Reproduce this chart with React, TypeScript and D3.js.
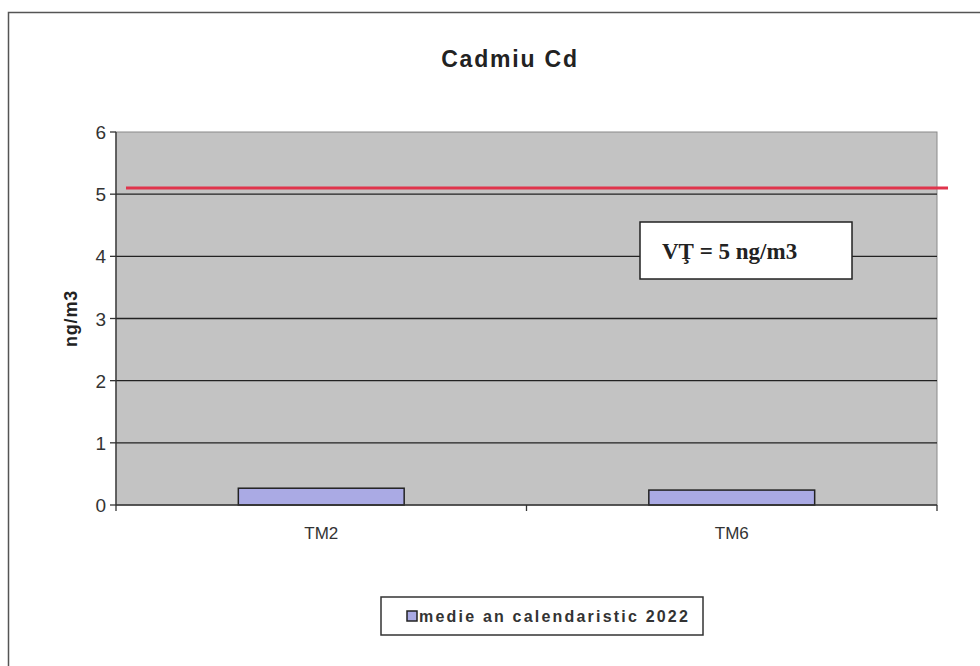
import React from "react";
import * as d3 from "d3";

const categories = ["TM2", "TM6"];
const values = [0.27, 0.24];
const yTicks = [0, 1, 2, 3, 4, 5, 6];
const limitValue = 5.1;
const title = "Cadmiu Cd";
const yTitle = "ng/m3";
const seriesName = "medie an calendaristic 2022";
const limitLabel = "VŢ = 5 ng/m3";

const W = 980;
const H = 666;
const plot = { left: 116, right: 937, top: 132, bottom: 505 };

export default function App() {
  const x = d3.scaleBand<string>().domain(categories).range([plot.left, plot.right]).padding(0);
  const y = d3.scaleLinear().domain([0, 6]).range([plot.bottom, plot.top]);
  const barW = x.bandwidth() * 0.404;
  const font = "Arial, 'Liberation Sans', sans-serif";

  return (
    <svg width={W} height={H} style={{ position: "absolute", left: 0, top: 0, background: "#fff" }}>
      <rect x={0} y={0} width={W} height={H} fill="#fff" />
      {/* outer frame */}
      <rect x={8.5} y={12.5} width={1100} height={800} fill="none" stroke="#555" strokeWidth={1.5} />
      <text x={510} y={67} textAnchor="middle" fontFamily={font} fontWeight="bold" fontSize={23} letterSpacing={1.8} fill="#222">
        {title}
      </text>
      {/* plot area */}
      <rect x={plot.left} y={plot.top} width={plot.right - plot.left} height={plot.bottom - plot.top} fill="#c3c3c3" stroke="#8a8a8a" strokeWidth={1} />
      {yTicks.filter((t) => t > 0 && t < 6).map((t) => (
        <line key={t} x1={plot.left} x2={plot.right} y1={y(t)} y2={y(t)} stroke="#222" strokeWidth={1.3} />
      ))}
      {/* y axis */}
      <line x1={plot.left} x2={plot.left} y1={plot.top} y2={plot.bottom} stroke="#333" strokeWidth={1.3} />
      {yTicks.map((t) => (
        <g key={t}>
          <line x1={plot.left - 6} x2={plot.left} y1={y(t)} y2={y(t)} stroke="#333" strokeWidth={1.3} />
          <text x={plot.left - 10} y={y(t) + 7} textAnchor="end" fontFamily={font} fontSize={19} fill="#333">
            {t}
          </text>
        </g>
      ))}
      <text transform={`translate(77,${(plot.top + plot.bottom) / 2}) rotate(-90)`} textAnchor="middle" fontFamily={font} fontWeight="bold" fontSize={18} letterSpacing={0.8} fill="#222">
        {yTitle}
      </text>
      {/* bars */}
      {categories.map((c, i) => {
        const cx = (x(c) as number) + x.bandwidth() / 2;
        return (
          <rect key={c} x={cx - barW / 2} y={y(values[i])} width={barW} height={y(0) - y(values[i])} fill="#aaaae4" stroke="#222" strokeWidth={1.5} />
        );
      })}
      {/* x axis */}
      <line x1={plot.left} x2={plot.right} y1={plot.bottom} y2={plot.bottom} stroke="#333" strokeWidth={1.3} />
      {categories.map((c, i) =>
        i > 0 ? (
          <line key={c} x1={x(c) as number} x2={x(c) as number} y1={plot.bottom} y2={plot.bottom + 6} stroke="#333" strokeWidth={1.3} />
        ) : null
      )}
      <line x1={plot.left} x2={plot.left} y1={plot.bottom} y2={plot.bottom + 6} stroke="#333" strokeWidth={1.3} />
      <line x1={plot.right} x2={plot.right} y1={plot.bottom} y2={plot.bottom + 6} stroke="#333" strokeWidth={1.3} />
      {categories.map((c) => (
        <text key={c} x={(x(c) as number) + x.bandwidth() / 2} y={539} textAnchor="middle" fontFamily={font} fontSize={17} fill="#333">
          {c}
        </text>
      ))}
      {/* limit line */}
      <line x1={126} x2={948} y1={y(limitValue)} y2={y(limitValue)} stroke="#e0344c" strokeWidth={3} />
      {/* limit label */}
      <rect x={640} y={222} width={212} height={57} fill="#fff" stroke="#222" strokeWidth={1.5} />
      <text x={662} y={259} fontFamily="'Liberation Serif', 'Times New Roman', serif" fontWeight="bold" fontSize={23} fill="#222">
        {limitLabel}
      </text>
      {/* legend */}
      <rect x={381} y={597} width={322} height={38} fill="#fff" stroke="#333" strokeWidth={1.5} />
      <rect x={407} y={611} width={10} height={10} fill="#aaaae4" stroke="#222" strokeWidth={1.5} />
      <text x={419} y={622} fontFamily={font} fontWeight="bold" fontSize={16} letterSpacing={2.2} fill="#333">
        {seriesName}
      </text>
    </svg>
  );
}
